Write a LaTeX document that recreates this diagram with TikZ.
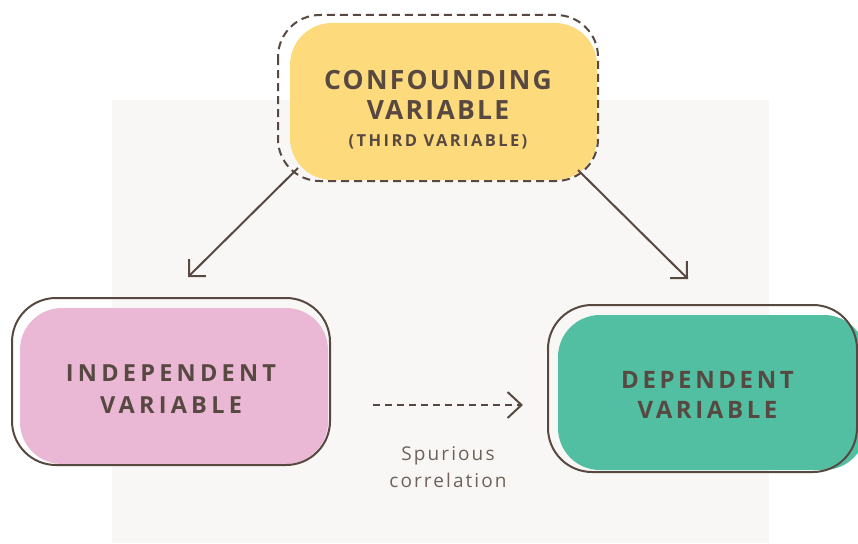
\documentclass[tikz,border=0pt]{standalone}
\usepackage{fontspec}
\setmainfont{Open Sans}
\newfontfamily\fTitle{Open Sans}[LetterSpace=8.5]
\newfontfamily\fThird{Open Sans}[LetterSpace=14.5]
\newfontfamily\fIndep{Open Sans}[LetterSpace=18]
\newfontfamily\fDep{Open Sans}[LetterSpace=15]
\newfontfamily\fSpur{Open Sans}[LetterSpace=11]
\usetikzlibrary{arrows.meta}
\definecolor{bgpanel}{HTML}{F8F7F5}
\definecolor{ink}{HTML}{574941}
\definecolor{soft}{HTML}{6E625B}
\definecolor{yel}{HTML}{FDDA7C}
\definecolor{pinkf}{HTML}{EAB8D4}
\definecolor{greenf}{HTML}{52BFA2}
\tikzset{
  fillbox/.style={rectangle, rounded corners=42pt, inner sep=0pt},
  outl/.style={draw=ink, line width=2pt, rounded corners=44pt},
  dashout/.style={draw=ink, line width=2pt, dash pattern=on 8pt off 5pt, rounded corners=42pt},
  ttl/.style={text=ink, font=\fTitle\bfseries\fontsize{26.5}{30}\selectfont, inner sep=0pt},
  third/.style={text=ink, font=\fThird\bfseries\fontsize{16.5}{19}\selectfont, inner sep=0pt},
  indt/.style={text=ink, font=\fIndep\bfseries\fontsize{23.5}{27}\selectfont, inner sep=0pt},
  dept/.style={text=ink, font=\fDep\bfseries\fontsize{24}{28}\selectfont, inner sep=0pt},
  spur/.style={text=soft, font=\fSpur\fontsize{19}{22}\selectfont, inner sep=0pt},
  conn/.style={draw=ink, line width=2pt, -{Straight Barb[length=12pt,width=24pt,line width=2pt]}},
}
\begin{document}
\begin{tikzpicture}[x=1pt,y=-1pt]
\useasboundingbox (0,0) rectangle (858,543);
% background panel
\fill[bgpanel] (112,100) rectangle (769,543);
% confounding
\node[fillbox, fill=yel, minimum width=307pt, minimum height=157pt] (conf) at (443.5,101.5) {};
\draw[dashout] (278,15) rectangle (598,181);
\node[ttl] (t1) at (438,80) {CONFOUNDING};
\node[ttl] (t2) at (438,110) {VARIABLE};
\node[third] (t3) at (438,142) {(THIRD VARIABLE)};
% independent
\node[fillbox, fill=pinkf, minimum width=308pt, minimum height=156pt] (indep) at (174,386) {};
\draw[outl] (12,298) rectangle (330,465);
\node[indt] (i1) at (171,373) {INDEPENDENT};
\node[indt] (i2) at (171,405) {VARIABLE};
% dependent
\node[fillbox, fill=greenf, minimum width=308pt, minimum height=155pt] (dep) at (712,392.5) {};
\draw[outl] (548,305) rectangle (857,472);
\node[dept] (d1) at (707.5,380) {DEPENDENT};
\node[dept] (d2) at (707.5,410) {VARIABLE};
% connectors
\coordinate (cl) at (298,168);
\coordinate (il) at (188,277);
\coordinate (cr) at (578,170);
\coordinate (dr) at (688,279);
\coordinate (sa) at (373,405);
\coordinate (sb) at (523,405);
\draw[conn] (cl) -- (il);
\draw[conn] (cr) -- (dr);
\draw[conn, dash pattern=on 7pt off 5pt, -{Straight Barb[length=14pt,width=26pt,line width=2pt]}] (sa) -- (sb);
\node[spur] (s1) at (448,456) {Spurious};
\node[spur] (s2) at (448,480) {correlation};
\end{tikzpicture}
\end{document}
